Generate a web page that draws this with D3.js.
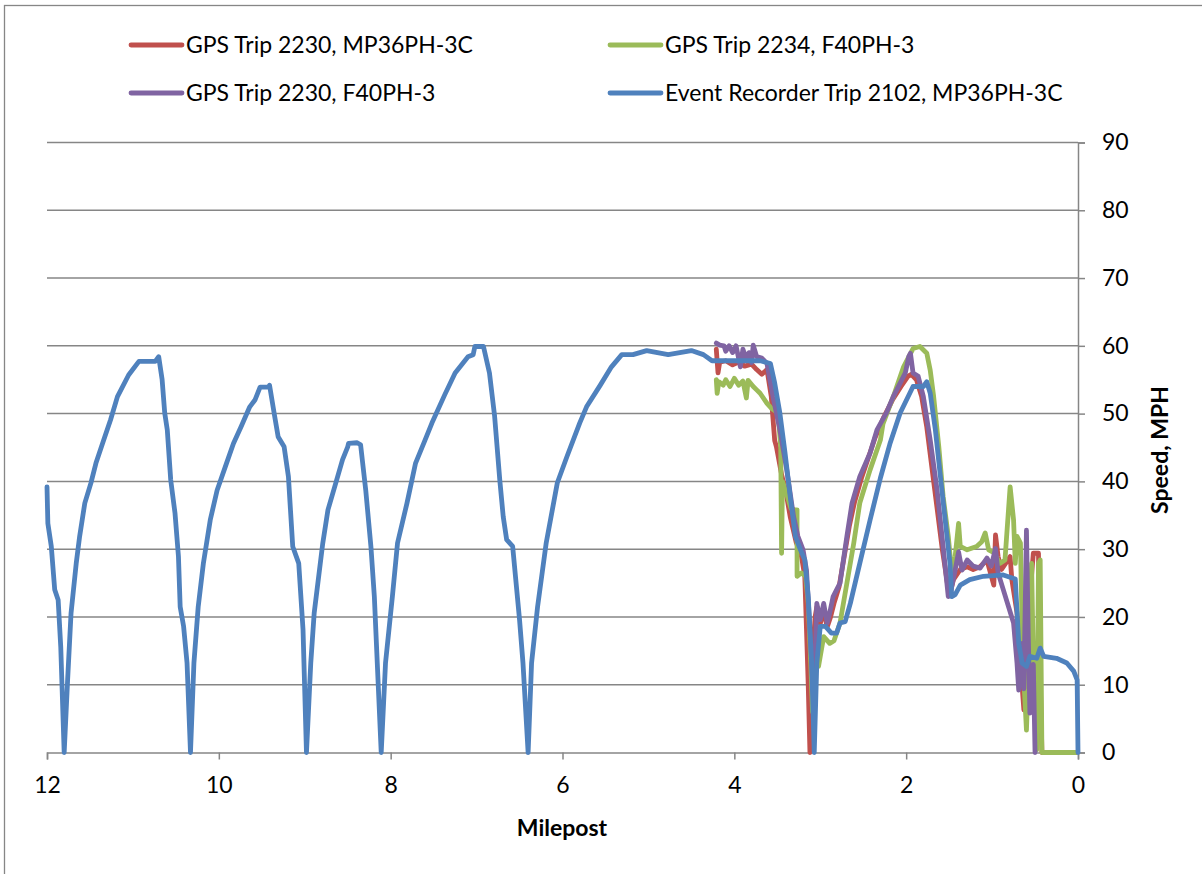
<!DOCTYPE html>
<html>
<head>
<meta charset="utf-8">
<script src="https://cdn.jsdelivr.net/npm/d3@7"></script>
<style>
  html, body { margin: 0; padding: 0; background: #fff; }
  svg { display: block; font-family: Lato, "Open Sans", sans-serif; }
</style>
</head>
<body>
<svg id="chart" width="1202" height="874"></svg>
<script>
// Speed vs. milepost, [milepost, mph] pairs per trip
const gpsTrip2230MP36 = [
  [4.21, 59.5], [4.19, 56.0], [4.17, 57.6], [4.10, 57.8], [4.02, 57.2], [3.95, 57.6],
  [3.88, 57.0], [3.80, 57.3], [3.74, 56.5], [3.68, 55.8], [3.62, 56.5], [3.57, 52.5],
  [3.53, 46.0], [3.51, 45.1], [3.45, 41.0], [3.40, 38.5], [3.35, 34.8], [3.28, 31.0],
  [3.22, 29.0], [3.18, 26.0], [3.16, 18.1], [3.14, 10.0], [3.12, 0.0], [3.10, 12.0],
  [3.06, 20.0], [3.04, 21.5], [3.00, 19.0], [2.96, 21.0], [2.92, 18.5], [2.88, 20.0],
  [2.84, 22.0], [2.78, 24.5], [2.72, 29.0], [2.66, 33.5], [2.60, 37.0], [2.52, 40.5],
  [2.44, 43.5], [2.36, 46.5], [2.26, 49.5], [2.16, 52.0], [2.06, 54.0], [1.98, 55.5],
  [1.94, 55.8], [1.88, 55.0], [1.82, 52.5], [1.76, 48.0], [1.70, 42.0], [1.64, 36.0],
  [1.58, 30.0], [1.52, 25.0], [1.49, 23.5], [1.45, 25.5], [1.37, 27.0], [1.29, 27.4],
  [1.22, 27.0], [1.14, 27.4], [1.06, 28.4], [0.98, 24.7], [0.96, 32.1], [0.93, 28.9],
  [0.89, 27.0], [0.79, 28.9], [0.77, 25.5], [0.71, 20.6], [0.65, 9.7], [0.63, 6.3],
  [0.60, 12.2], [0.56, 23.0], [0.52, 29.4], [0.46, 29.4], [0.44, 11.2], [0.42, 0.0],
  [0.02, 0.0]
];

const gpsTrip2234F40 = [
  [4.21, 55.0], [4.20, 53.0], [4.18, 54.7], [4.13, 54.2], [4.10, 55.0], [4.05, 54.0],
  [4.00, 55.2], [3.95, 54.2], [3.90, 54.8], [3.86, 52.3], [3.84, 54.9], [3.78, 54.0],
  [3.74, 53.5], [3.70, 53.0], [3.62, 51.5], [3.57, 50.8], [3.49, 50.1], [3.46, 45.0],
  [3.45, 29.4], [3.44, 40.0], [3.40, 38.5], [3.34, 36.0], [3.30, 35.8], [3.27, 35.8],
  [3.27, 26.0], [3.22, 26.5], [3.17, 26.0], [3.14, 22.0], [3.11, 13.2], [3.09, 6.0],
  [3.06, 12.7], [3.02, 12.7], [2.96, 17.1], [2.89, 16.1], [2.84, 16.5], [2.77, 19.1],
  [2.69, 25.0], [2.61, 30.9], [2.54, 36.8], [2.42, 41.7], [2.30, 46.1], [2.27, 48.5],
  [2.15, 52.5], [2.03, 56.9], [1.92, 59.6], [1.84, 59.9], [1.76, 58.9], [1.72, 56.4],
  [1.68, 52.5], [1.62, 45.1], [1.57, 37.8], [1.51, 31.9], [1.47, 26.5], [1.43, 28.9],
  [1.39, 33.8], [1.37, 30.4], [1.29, 29.9], [1.18, 30.4], [1.12, 31.1], [1.08, 32.4],
  [1.04, 29.9], [0.98, 29.5], [0.91, 27.9], [0.85, 28.4], [0.79, 39.2], [0.75, 34.3],
  [0.73, 27.9], [0.71, 31.9], [0.67, 30.9], [0.65, 18.1], [0.63, 10.7], [0.60, 3.3],
  [0.56, 18.0], [0.54, 27.9], [0.52, 13.2], [0.48, 0.4], [0.46, 27.9], [0.44, 28.4],
  [0.42, 0.0], [0.02, 0.0]
];

const gpsTrip2230F40 = [
  [4.21, 60.4], [4.17, 60.1], [4.12, 60.0], [4.10, 59.2], [4.06, 60.0], [4.02, 59.0],
  [3.98, 60.0], [3.93, 56.9], [3.90, 59.5], [3.86, 58.0], [3.83, 59.0], [3.80, 57.5],
  [3.78, 60.1], [3.74, 58.4], [3.68, 58.2], [3.62, 57.4], [3.55, 52.5], [3.47, 47.6],
  [3.39, 41.7], [3.31, 34.8], [3.26, 31.9], [3.20, 29.9], [3.16, 26.9], [3.12, 18.1],
  [3.08, 8.3], [3.06, 14.0], [3.04, 22.0], [3.00, 19.6], [2.96, 22.0], [2.92, 19.1],
  [2.89, 20.6], [2.85, 23.0], [2.77, 25.0], [2.69, 31.9], [2.63, 36.8], [2.54, 40.7],
  [2.42, 44.2], [2.34, 47.6], [2.23, 50.1], [2.15, 52.5], [2.07, 54.5], [2.01, 56.0],
  [1.97, 58.4], [1.95, 58.9], [1.92, 56.0], [1.86, 55.5], [1.80, 52.5], [1.72, 46.1],
  [1.64, 38.7], [1.57, 30.4], [1.51, 23.0], [1.49, 23.2], [1.43, 26.9], [1.39, 29.6],
  [1.35, 26.9], [1.29, 28.4], [1.22, 27.5], [1.14, 27.2], [1.06, 28.7], [1.01, 27.5],
  [0.96, 30.1], [0.93, 26.5], [0.75, 19.1], [0.71, 13.2], [0.69, 9.2], [0.65, 16.1],
  [0.63, 9.4], [0.60, 32.8], [0.58, 18.1], [0.56, 5.8], [0.52, 13.0], [0.50, 0.0]
];

const eventRecorder2102 = [
  [12.00, 39.2], [11.99, 33.8], [11.95, 30.4], [11.91, 24.0], [11.87, 22.5], [11.84, 15.6],
  [11.80, 0.0], [11.76, 10.7], [11.72, 20.6], [11.66, 27.9], [11.62, 31.9], [11.56, 36.8],
  [11.49, 39.7], [11.43, 42.7], [11.34, 46.1], [11.26, 49.1], [11.18, 52.5], [11.05, 55.7],
  [10.93, 57.7], [10.74, 57.7], [10.70, 58.4], [10.66, 55.0], [10.63, 50.1], [10.60, 47.6],
  [10.56, 40.2], [10.51, 35.3], [10.47, 28.9], [10.45, 21.5], [10.41, 18.6], [10.37, 13.2],
  [10.33, 0.0], [10.29, 13.2], [10.24, 21.5], [10.18, 27.9], [10.10, 34.3], [10.02, 38.7],
  [9.91, 42.7], [9.83, 45.6], [9.74, 48.1], [9.64, 51.0], [9.58, 52.0], [9.52, 53.9],
  [9.42, 53.9], [9.41, 54.2], [9.35, 49.6], [9.31, 46.6], [9.24, 45.1], [9.19, 40.7],
  [9.14, 30.4], [9.07, 27.9], [9.02, 18.1], [8.98, 0.0], [8.93, 13.2], [8.89, 20.6],
  [8.79, 30.9], [8.73, 35.8], [8.64, 39.7], [8.56, 43.2], [8.50, 45.1], [8.49, 45.6],
  [8.39, 45.7], [8.35, 45.4], [8.29, 38.7], [8.23, 30.4], [8.19, 23.0], [8.11, 0.0],
  [8.06, 13.2], [7.98, 23.0], [7.92, 30.9], [7.81, 36.8], [7.71, 42.7], [7.60, 46.1],
  [7.52, 48.6], [7.37, 52.8], [7.25, 56.0], [7.10, 58.4], [7.04, 58.7], [7.02, 59.9],
  [6.92, 59.9], [6.85, 56.0], [6.79, 49.6], [6.73, 40.2], [6.69, 34.8], [6.65, 31.4],
  [6.58, 30.4], [6.50, 19.6], [6.46, 13.2], [6.40, 0.0], [6.36, 13.2], [6.29, 21.5],
  [6.19, 30.9], [6.06, 39.8], [5.95, 43.6], [5.80, 48.6], [5.72, 51.0], [5.56, 54.2],
  [5.43, 56.9], [5.31, 58.7], [5.18, 58.7], [5.02, 59.3], [4.77, 58.7], [4.50, 59.3],
  [4.36, 58.7], [4.26, 57.8], [3.70, 57.8], [3.58, 57.4], [3.53, 54.5], [3.47, 50.1],
  [3.41, 44.2], [3.35, 37.8], [3.29, 31.9], [3.23, 29.9], [3.18, 28.4], [3.14, 23.0],
  [3.10, 13.2], [3.07, 0.0], [3.04, 13.2], [3.00, 18.6], [2.94, 18.6], [2.87, 17.6],
  [2.81, 17.6], [2.77, 19.1], [2.71, 19.3], [2.65, 22.0], [2.54, 27.9], [2.42, 34.3],
  [2.30, 40.5], [2.19, 45.5], [2.07, 50.1], [1.92, 54.0], [1.80, 54.0], [1.76, 54.7],
  [1.72, 53.0], [1.66, 47.6], [1.61, 41.7], [1.55, 34.8], [1.49, 27.9], [1.47, 23.0],
  [1.43, 23.3], [1.37, 24.7], [1.26, 25.5], [1.10, 26.0], [0.87, 26.2], [0.73, 25.6],
  [0.69, 16.1], [0.65, 13.2], [0.60, 12.7], [0.56, 14.2], [0.48, 13.9], [0.44, 15.4],
  [0.40, 14.2], [0.25, 13.9], [0.13, 13.2], [0.05, 12.0], [0.01, 10.7], [0.00, 0.0]
];

const seriesNames = [
  "GPS Trip 2230, MP36PH-3C",
  "GPS Trip 2234, F40PH-3",
  "GPS Trip 2230, F40PH-3",
  "Event Recorder Trip 2102, MP36PH-3C"
];
const seriesColors = ["#C0504D", "#9BBB59", "#8064A2", "#4F81BD"];
const seriesData = [gpsTrip2230MP36, gpsTrip2234F40, gpsTrip2230F40, eventRecorder2102];

const xTicks = [12, 10, 8, 6, 4, 2, 0];
const yTicks = [0, 10, 20, 30, 40, 50, 60, 70, 80, 90];
const xTitle = "Milepost";
const yTitle = "Speed, MPH";

const svg = d3.select("#chart");
const gridColor = "#868686";
const fontSize = 23;

// chart frame
svg.append("rect")
  .attr("x", 4.5).attr("y", 5.5)
  .attr("width", 1300).attr("height", 1000)
  .attr("fill", "none").attr("stroke", gridColor).attr("stroke-width", 1.3);

const x = d3.scaleLinear().domain([12, 0]).range([47, 1078]);
const y = d3.scaleLinear().domain([0, 90]).range([752.5, 142.5]);

// horizontal gridlines
svg.append("g")
  .selectAll("line")
  .data(yTicks.filter(d => d > 0))
  .join("line")
  .attr("x1", x(12)).attr("x2", x(0))
  .attr("y1", d => y(d)).attr("y2", d => y(d))
  .attr("stroke", gridColor).attr("stroke-width", 1.5);

// x axis (bottom)
const xAxis = svg.append("g")
  .attr("transform", `translate(0,${y(0)})`)
  .call(d3.axisBottom(x).tickValues(xTicks).tickSize(7).tickPadding(17).tickFormat(d3.format("d")));
xAxis.select(".domain").attr("stroke", gridColor).attr("stroke-width", 1.5);
xAxis.selectAll(".tick line").attr("stroke", gridColor).attr("stroke-width", 1.5);
xAxis.selectAll(".tick text")
  .attr("fill", "#000").attr("font-size", fontSize).attr("font-family", "Lato, sans-serif");

// y axis (right)
const yAxis = svg.append("g")
  .attr("transform", `translate(${x(0)},0)`)
  .call(d3.axisRight(y).tickValues(yTicks).tickSize(7).tickPadding(17).tickFormat(d3.format("d")));
yAxis.select(".domain").attr("stroke", gridColor).attr("stroke-width", 1.5);
yAxis.selectAll(".tick line").attr("stroke", gridColor).attr("stroke-width", 1.5);
yAxis.selectAll(".tick text")
  .attr("fill", "#000").attr("font-size", fontSize).attr("font-family", "Lato, sans-serif");

// axis titles
svg.append("text")
  .attr("x", 562).attr("y", 836)
  .attr("text-anchor", "middle")
  .attr("font-size", fontSize).attr("font-weight", "bold")
  .text(xTitle);

svg.append("text")
  .attr("transform", "translate(1168,450) rotate(-90)")
  .attr("text-anchor", "middle")
  .attr("font-size", fontSize).attr("font-weight", "bold")
  .text(yTitle);

// series lines
const line = d3.line().x(d => x(d[0])).y(d => y(d[1]));
svg.append("g")
  .selectAll("path")
  .data(seriesData)
  .join("path")
  .attr("d", line)
  .attr("fill", "none")
  .attr("stroke", (d, i) => seriesColors[i])
  .attr("stroke-width", 4.8)
  .attr("stroke-linejoin", "round")
  .attr("stroke-linecap", "round");

// legend: two columns, two rows
const legendPos = [[131, 45], [610, 45], [131, 93], [610, 93]];
const legend = svg.append("g")
  .selectAll("g")
  .data(seriesNames)
  .join("g")
  .attr("transform", (d, i) => `translate(${legendPos[i][0]},${legendPos[i][1]})`);
legend.append("line")
  .attr("x1", 0).attr("x2", 51).attr("y1", 0).attr("y2", 0)
  .attr("stroke", (d, i) => seriesColors[i])
  .attr("stroke-width", 4.8).attr("stroke-linecap", "round");
legend.append("text")
  .attr("x", 55).attr("y", 0).attr("dy", "0.35em")
  .attr("font-size", fontSize).attr("fill", "#000")
  .text(d => d);
</script>
</body>
</html>
